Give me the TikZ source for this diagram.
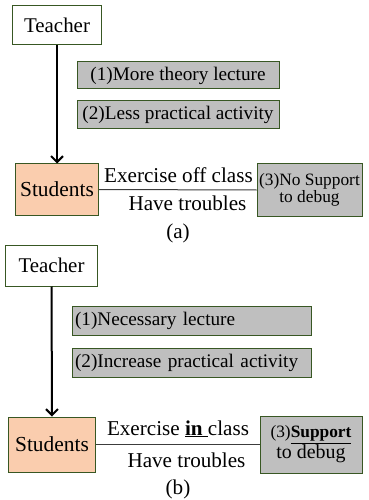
\documentclass[tikz,border=0pt]{standalone}
\usepackage{fontspec}
\setmainfont{Liberation Serif}
\usetikzlibrary{arrows.meta}
\definecolor{bordergreen}{RGB}{56,87,35}
\definecolor{peach}{RGB}{250,205,174}
\definecolor{boxgray}{RGB}{191,191,191}
\definecolor{linegray}{RGB}{60,60,60}
\tikzset{
  plainbox/.style={draw=bordergreen, line width=1bp, fill=white, inner sep=0pt, font=\fontsize{21}{24}\selectfont},
  studbox/.style={draw=bordergreen, line width=1bp, fill=peach, inner sep=0pt, font=\fontsize{21.5}{24}\selectfont},
  graybox/.style={draw=bordergreen, line width=1bp, fill=boxgray, inner sep=0pt, font=\fontsize{19.3}{22}\selectfont},
  smallbox/.style={draw=bordergreen, line width=1bp, fill=boxgray, inner sep=0pt, align=center},
  lbl/.style={inner sep=0pt, anchor=base, font=\fontsize{21.2}{24}\selectfont},
  flowarrow/.style={line width=2bp, -{Straight Barb[length=6bp,width=12bp,line width=2bp]}},
  link/.style={draw=linegray, line width=1bp}
}
\begin{document}
\begin{tikzpicture}[x=1bp,y=-1bp]
\useasboundingbox (0,0) rectangle (368,500);
% ---------- panel (a) ----------
\node[plainbox, minimum width=88bp, minimum height=39bp] (ta) at (57,25.5) {Teacher};
\node[graybox, minimum width=202bp, minimum height=27bp] (a1) at (178,75.5) {(1)More theory lecture};
\node[graybox, minimum width=202bp, minimum height=28bp] (a2) at (178,115) {(2)Less practical activity};
\node[studbox, minimum width=83bp, minimum height=51bp] (sa) at (57,189.5) {Students};
\node[smallbox, font=\fontsize{17.4}{17.5}\selectfont, minimum width=105bp, minimum height=52bp] (a3) at (309.5,190) {(3)No Support\\to debug};
\draw[flowarrow] (ta.south) -- (sa.north);
\draw[link] (sa.east) -- (a3.west);
\node[lbl] (ea) at (178.5,183) {Exercise off class};
\node[lbl] (ha) at (187.5,210) {Have troubles};
\node[lbl] (capa) at (178,238) {(a)};
% ---------- panel (b) ----------
\node[plainbox, minimum width=91bp, minimum height=41bp] (tb) at (51.5,265.5) {Teacher};
\node[graybox, minimum width=239bp, minimum height=29bp, text width=233bp, align=left] (b1) at (191.5,320.5) {(1)Necessary lecture};
\node[graybox, minimum width=239bp, minimum height=29bp, text width=233bp, align=left] (b2) at (191.5,362.5) {(2)Increase practical activity};
\node[studbox, minimum width=87bp, minimum height=55bp] (sb) at (52,444.5) {Students};
\node[smallbox, font=\fontsize{17.4}{21}\selectfont, minimum width=102bp, minimum height=57bp] (b3) at (311,444.5) {(3)\underline{\textbf{Support}}\\{\fontsize{20}{21}\selectfont to debug}};
\draw[flowarrow] (tb.south) -- (sb.north);
\draw[link] (sb.east) -- (b3.west);
\node[lbl] (eb) at (178,435) {Exercise \underline{\textbf{in}\ }class};
\node[lbl] (hb) at (186.5,467) {Have troubles};
\node[lbl] (capb) at (178,494) {(b)};
\end{tikzpicture}
\end{document}
